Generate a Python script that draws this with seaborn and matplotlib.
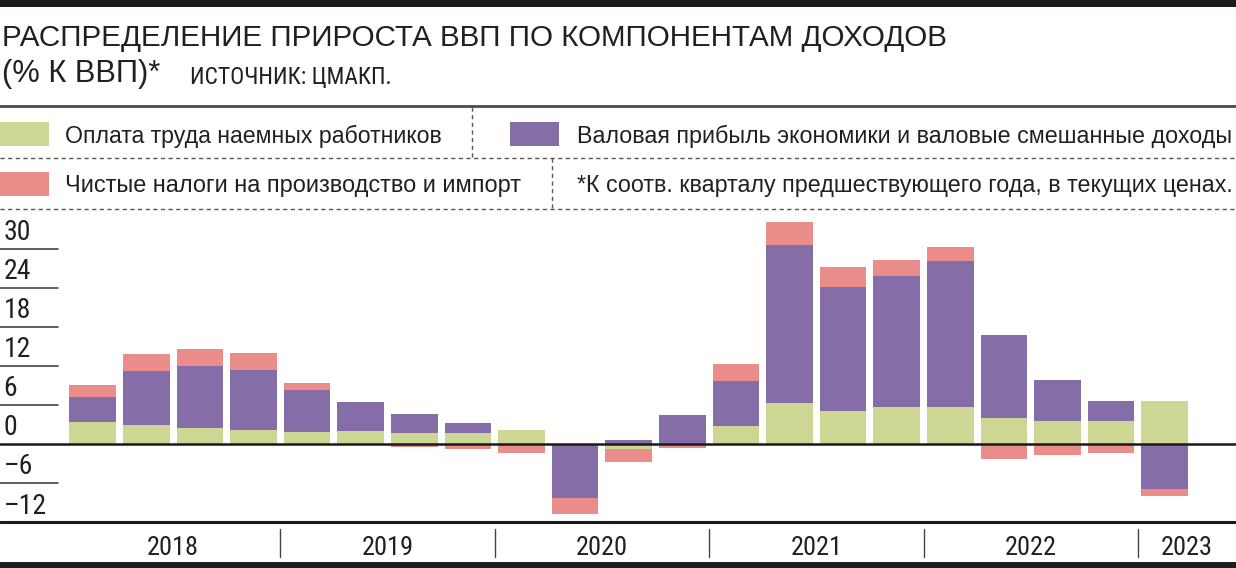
import matplotlib
matplotlib.use("Agg")
import matplotlib.pyplot as plt
from matplotlib import font_manager
from matplotlib.lines import Line2D
from matplotlib.patches import Rectangle
from matplotlib.transforms import blended_transform_factory
import numpy as np
import pandas as pd
import seaborn as sns

# data (% of GDP, y/y contribution)
quarters = ["2018Q1", "2018Q2", "2018Q3", "2018Q4",
            "2019Q1", "2019Q2", "2019Q3", "2019Q4",
            "2020Q1", "2020Q2", "2020Q3", "2020Q4",
            "2021Q1", "2021Q2", "2021Q3", "2021Q4",
            "2022Q1", "2022Q2", "2022Q3", "2022Q4",
            "2023Q1"]
labour = [3.4, 2.9, 2.45, 2.25, 1.9, 2.05, 1.8, 1.7, 2.2, 0.0, -0.7,
          0.0, 2.8, 6.3, 5.1, 5.7, 5.7, 4.1, 3.6, 3.6, 6.6]
profit = [3.9, 8.4, 9.5, 9.2, 6.5, 4.5, 2.8, 1.6, 0.0, -8.2, 0.7,
          4.5, 6.9, 24.3, 19.0, 20.2, 22.4, 12.7, 6.2, 3.1, -6.9]
taxes = [1.85, 2.6, 2.7, 2.6, 1.0, 0.0, -0.5, -0.7, -1.3, -2.5, -2.1,
         -0.6, 2.6, 3.5, 3.1, 2.4, 2.15, -2.2, -1.6, -1.4, -1.0]
years = ["2018", "2019", "2020", "2021", "2022", "2023"]
yticks = [30, 24, 18, 12, 6, 0, -6, -12]
ytick_labels = ["30", "24", "18", "12", "6", "0", "–6", "–12"]

series_names = ["Оплата труда наемных работников",
                "Валовая прибыль экономики и валовые смешанные доходы",
                "Чистые налоги на производство и импорт"]
note = "*К соотв. кварталу предшествующего года, в текущих ценах."
title = "РАСПРЕДЕЛЕНИЕ ПРИРОСТА ВВП ПО КОМПОНЕНТАМ ДОХОДОВ"
subtitle = "(% К ВВП)*"
source = "ИСТОЧНИК: ЦМАКП."

GREEN = "#cdd692"
PURPLE = "#856ea8"
PINK = "#ea8d8a"
INK = "#231f20"

sns.set_theme(style="white")
available = {f.name for f in font_manager.fontManager.ttflist}
narrow = next((f for f in ["Liberation Sans Narrow", "DejaVu Sans Condensed",
                           "Roboto Condensed"] if f in available), "Liberation Sans")
plt.rcParams["font.family"] = ["Liberation Sans", "DejaVu Sans"]

W, H = 1236, 568
fig = plt.figure(figsize=(W / 100, H / 100), dpi=100)
renderer = fig.canvas.get_renderer()


def fx(px):
    return px / W


def fy(py):
    return 1 - py / H


def fit_text(x, y, s, width_px, size, **kw):
    # put a text at pixel (x, baseline y) and scale it to the width seen in the chart
    t = fig.text(fx(x), fy(y), s, fontsize=size, color=INK, va="baseline", **kw)
    w = t.get_window_extent(renderer).width
    t.set_fontsize(size * width_px / w)
    return t


ax = fig.add_axes([0, fy(522.3), 1, fy(210) - fy(522.3)])

df = pd.DataFrame({"quarter": quarters, "labour": labour,
                   "profit": profit, "taxes": taxes})

pos_base = np.zeros(len(df))
neg_base = np.zeros(len(df))
for col, color in [("labour", GREEN), ("profit", PURPLE), ("taxes", PINK)]:
    vals = df[col].to_numpy()
    bottom = np.where(vals >= 0, pos_base, neg_base)
    sns.barplot(x=df["quarter"], y=vals, bottom=bottom, color=color,
                saturation=1, width=0.87, errorbar=None, linewidth=0, ax=ax)
    pos_base += np.clip(vals, 0, None)
    neg_base += np.clip(vals, None, 0)

ax.set_xlim(-1.73, 21.33)
ax.set_ylim(-12, 36)
ax.set_xticks([])
ax.set_yticks([])
ax.set_xlabel("")
ax.set_ylabel("")
for s in ax.spines.values():
    s.set_visible(False)

# y "ticks": short stubs with labels on top
for v, lab in zip(yticks, ytick_labels):
    if v not in (0, -12):
        ax.axhline(v, xmin=0, xmax=58 / W, color="#333333", lw=1.1)
    ax.annotate(lab, xy=(0.003, v), xycoords=("axes fraction", "data"),
                xytext=(0, 2), textcoords="offset points",
                ha="left", va="bottom", fontsize=20, color=INK,
                family=[narrow, "DejaVu Sans"])
ax.axhline(0, color="#1a1a1a", lw=1.8, zorder=5)
ax.axhline(-12, color="#1a1a1a", lw=2.2, zorder=5, clip_on=False)

# year labels and separators below the axis
yt = blended_transform_factory(ax.transData, fig.transFigure)
year_pos = [1.5, 5.5, 9.5, 13.5, 17.5, 20.42]
for x, lab in zip(year_pos, years):
    ax.text(x, fy(555), lab, transform=yt, ha="center", va="baseline",
            fontsize=19, color=INK, family=[narrow, "DejaVu Sans"], clip_on=False)
for x in [3.5, 7.5, 11.5, 15.5, 19.5]:
    ax.add_line(Line2D([x, x], [fy(529), fy(557)], transform=yt,
                       color="#444444", lw=1, clip_on=False))

# header
fig.add_artist(Rectangle((0, fy(7)), 1, 7 / H, transform=fig.transFigure,
                         color="#1e1b1c", lw=0))
fig.add_artist(Rectangle((0, 0), 1, 6 / H, transform=fig.transFigure,
                         color="#1e1b1c", lw=0))
fit_text(2, 46, title, 947, 22)
fit_text(2, 82, subtitle, 158, 21)
fit_text(190, 84, source, 202, 16, family=[narrow, "DejaVu Sans"])
fig.add_artist(Line2D([0, 1], [fy(106), fy(106)], transform=fig.transFigure,
                      color="#4a4a4a", lw=2))

# legend block
dash = dict(color="#555555", lw=1, linestyle=(0, (3, 2.5)))
for yy in (158, 209):
    fig.add_artist(Line2D([0, 1], [fy(yy), fy(yy)], transform=fig.transFigure, **dash))
fig.add_artist(Line2D([fx(472), fx(472)], [fy(107), fy(158)], transform=fig.transFigure, **dash))
fig.add_artist(Line2D([fx(552), fx(552)], [fy(158), fy(209)], transform=fig.transFigure, **dash))

swatches = [(0, 122, GREEN, series_names[0], 65, 143, 378),
            (510, 122, PURPLE, series_names[1], 577, 143, 653),
            (0, 172, PINK, series_names[2], 65, 192, 457)]
for sx, sy, c, lab, tx, ty, tw in swatches:
    fig.add_artist(Rectangle((fx(sx), fy(sy + 24)), 49 / W, 24 / H,
                             transform=fig.transFigure, color=c, lw=0))
    fit_text(tx, ty, lab, tw, 17)
fit_text(577, 192, note, 653, 17)

fig.savefig("out.png", dpi=100)
